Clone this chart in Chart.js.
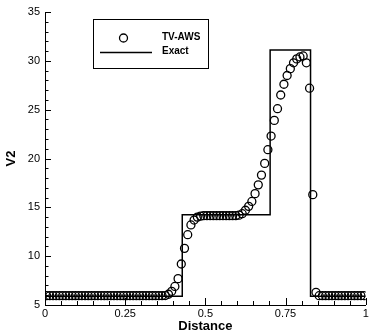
<!DOCTYPE html>
<html><head><meta charset="utf-8">
<script src="https://cdn.jsdelivr.net/npm/chart.js@4.4.1/dist/chart.umd.min.js"></script>
<style>html,body{margin:0;padding:0;background:#fff;overflow:hidden}</style>
</head><body>
<canvas id="c" width="371" height="333"></canvas>
<script>
// ---- data ----
const seriesNames = ['TV-AWS', 'Exact'];
const xTicks = [0, 0.25, 0.5, 0.75, 1];
const yTicks = [5, 10, 15, 20, 25, 30, 35];
const tvAwsX = [
 0.005,0.015,0.025,0.035,0.045,0.055,0.065,0.075,0.085,0.095,
 0.105,0.115,0.125,0.135,0.145,0.155,0.165,0.175,0.185,0.195,
 0.205,0.215,0.225,0.235,0.245,0.255,0.265,0.275,0.285,0.295,
 0.305,0.315,0.325,0.335,0.345,0.355,0.365,0.375,0.385,0.395,
 0.405,0.415,0.425,0.435,0.445,0.455,0.465,0.475,0.485,0.495,
 0.505,0.515,0.525,0.535,0.545,0.555,0.565,0.575,0.585,0.595,
 0.605,0.615,0.625,0.635,0.645,0.655,0.665,0.675,0.685,0.695,
 0.705,0.715,0.725,0.735,0.745,0.755,0.765,0.775,0.785,0.795,
 0.805,0.815,0.825,0.835,0.845,0.855,0.865,0.875,0.885,0.895,
 0.905,0.915,0.925,0.935,0.945,0.955,0.965,0.975,0.985,0.995];
const tvAwsY = [
 5.95,5.95,5.95,5.95,5.95,5.95,5.95,5.95,5.95,5.95,
 5.95,5.95,5.95,5.95,5.95,5.95,5.95,5.95,5.95,5.95,
 5.95,5.95,5.95,5.95,5.95,5.95,5.95,5.95,5.95,5.95,
 5.95,5.95,5.95,5.95,5.95,5.95,5.95,5.97,6.1,6.4,
 6.9,7.7,9.2,10.8,12.2,13.2,13.7,14.0,14.1,14.15,
 14.15,14.15,14.15,14.15,14.15,14.15,14.15,14.15,14.15,14.15,
 14.2,14.35,14.7,15.1,15.6,16.4,17.3,18.3,19.5,20.9,
 22.3,23.9,25.1,26.5,27.6,28.5,29.2,29.8,30.2,30.4,
 30.5,29.8,27.2,16.3,6.3,5.95,5.95,5.95,5.95,5.95,
 5.95,5.95,5.95,5.95,5.95,5.95,5.95,5.95,5.95,5.95];
const exactX = [0, 0.428, 0.702, 0.828, 1];
const exactY = [5.9, 14.25, 31.1, 5.9, 5.9];

// ---- build ----
const FONT = "'Liberation Sans', Arial, Helvetica, sans-serif";
const zip = (xs, ys) => xs.map((x, i) => ({x, y: ys[i]}));

const inTicks = {
  id: 'inTicks',
  afterDatasetsDraw(chart) {
    const {ctx, chartArea: a, scales: {x, y}} = chart;
    ctx.save();
    ctx.strokeStyle = '#000';
    ctx.lineWidth = 1;
    ctx.beginPath();
    for (let k = 0; k <= 20; k++) {
      const v = k / 20;
      const px = Math.round(x.getPixelForValue(v)) + 0.5;
      const len = (k % 5 === 0) ? 7 : 4;
      ctx.moveTo(px, a.bottom); ctx.lineTo(px, a.bottom - len);
    }
    for (let v = 5; v <= 35; v++) {
      const py = Math.round(y.getPixelForValue(v)) + 0.5;
      const len = (v % 5 === 0) ? 6 : 3.5;
      ctx.moveTo(a.left, py); ctx.lineTo(a.left + len, py);
    }
    ctx.stroke();
    ctx.restore();
  }
};

const boxLegend = {
  id: 'boxLegend',
  afterDraw(chart) {
    const {ctx} = chart;
    const ds = chart.data.datasets;
    const bx = 93.5, by = 19.5, bw = 115, bh = 49;
    ctx.save();
    ctx.fillStyle = '#fff';
    ctx.fillRect(bx, by, bw, bh);
    ctx.strokeStyle = '#000';
    ctx.lineWidth = 1;
    ctx.strokeRect(bx, by, bw, bh);
    ctx.lineWidth = 1.3;
    ctx.beginPath();
    ctx.arc(123.5, 38, 4, 0, Math.PI * 2);
    ctx.stroke();
    ctx.lineWidth = 1.5;
    ctx.beginPath();
    ctx.moveTo(100, 52.5); ctx.lineTo(152, 52.5);
    ctx.stroke();
    ctx.fillStyle = '#000';
    ctx.font = 'bold 10px ' + FONT;
    ctx.textBaseline = 'middle';
    ctx.textAlign = 'left';
    ctx.fillText(ds[0].label, 162, 37);
    ctx.fillText(ds[1].label, 162, 51.5);
    ctx.restore();
  }
};

new Chart(document.getElementById('c'), {
  type: 'scatter',
  data: {
    datasets: [
      {
        label: seriesNames[0],
        data: zip(tvAwsX, tvAwsY),
        showLine: false,
        pointStyle: 'circle',
        pointRadius: 4,
        pointBorderWidth: 1.3,
        pointBorderColor: '#000',
        pointBackgroundColor: 'rgba(0,0,0,0)',
        order: 1
      },
      {
        label: seriesNames[1],
        data: zip(exactX, exactY),
        showLine: true,
        stepped: 'before',
        borderColor: '#000',
        borderWidth: 1.5,
        pointRadius: 0,
        fill: false,
        order: 2
      }
    ]
  },
  options: {
    responsive: false,
    animation: false,
    devicePixelRatio: 1,
    layout: {padding: {top: 12, right: 1.5, bottom: 0, left: 0}},
    plugins: {legend: {display: false}, tooltip: {enabled: false}},
    scales: {
      x: {
        type: 'linear', min: 0, max: 1,
        afterFit(s) { s.height = 28; s.paddingLeft = 0; s.paddingRight = 0; },
        afterBuildTicks(s) { s.ticks = xTicks.map(v => ({value: v})); },
        ticks: {
          padding: 2, color: '#000', maxRotation: 0, autoSkip: false,
          font: {family: FONT, size: 11},
          callback: v => String(v)
        },
        grid: {display: false, drawTicks: false},
        border: {display: true, color: '#000', width: 1},
        title: {display: true, text: 'Distance', color: '#000',
          font: {family: FONT, size: 13, weight: 'bold', lineHeight: 1},
          padding: {top: 0, bottom: 0}}
      },
      y: {
        type: 'linear', min: 5, max: 35,
        afterFit(s) { s.width = 45; s.paddingTop = 0; s.paddingBottom = 0; },
        afterBuildTicks(s) { s.ticks = yTicks.map(v => ({value: v})); },
        ticks: {
          padding: 5, color: '#000', autoSkip: false,
          font: {family: FONT, size: 11},
          callback: v => String(v)
        },
        grid: {display: false, drawTicks: false},
        border: {display: true, color: '#000', width: 1},
        title: {display: true, text: 'V2', color: '#000',
          font: {family: FONT, size: 13, weight: 'bold', lineHeight: 1.2},
          padding: {top: 4, bottom: 0}}
      }
    }
  },
  plugins: [inTicks, boxLegend]
});
</script>
</body></html>
